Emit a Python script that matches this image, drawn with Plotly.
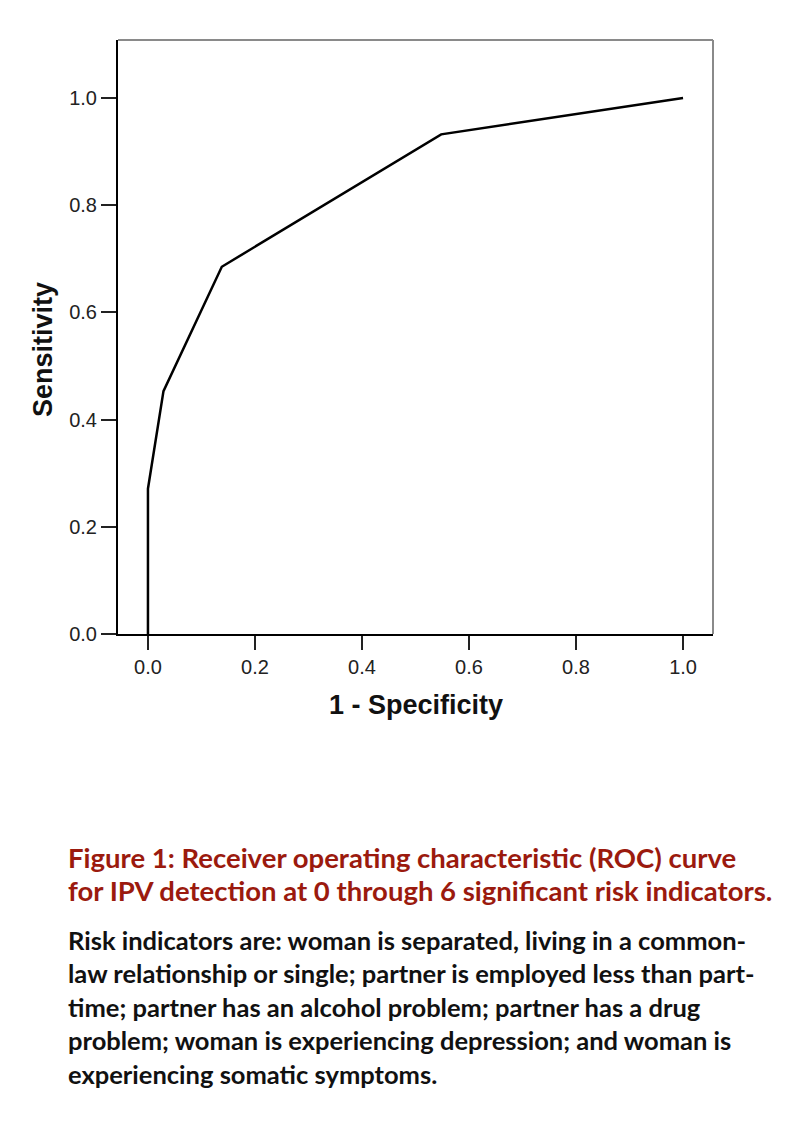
import plotly.graph_objects as go

# ROC curve data
fpr = [0.0, 0.0, 0.029, 0.138, 0.548, 1.0]
tpr = [0.0, 0.271, 0.453, 0.685, 0.932, 1.0]

x_ticks = [0.0, 0.2, 0.4, 0.6, 0.8, 1.0]
y_ticks = [0.0, 0.2, 0.4, 0.6, 0.8, 1.0]
x_title = "1 - Specificity"
y_title = "Sensitivity"

caption_title = [
    "Figure 1: Receiver operating characteristic (ROC) curve",
    "for IPV detection at 0 through 6 significant risk indicators.",
]
caption_body = [
    "Risk indicators are: woman is separated, living in a common-",
    "law relationship or single; partner is employed less than part-",
    "time; partner has an alcohol problem; partner has a drug",
    "problem; woman is experiencing depression; and woman is",
    "experiencing somatic symptoms.",
]

OFF = 8  # default page body margin
W, H = 800, 1123
L, R, T, B = 118 - OFF, 713 - OFF, 40 - OFF, 634 - OFF

def px(xp):
    return (xp - OFF - L) / (R - L)

def py(yp):
    return (B - (yp - OFF)) / (B - T)

fig = go.Figure()
fig.add_trace(go.Scatter(x=fpr, y=tpr, mode="lines",
                         line=dict(color="#000000", width=2.5), showlegend=False,
                         hoverinfo="skip"))

axis_font = dict(family="Liberation Sans, Arial, sans-serif", size=20, color="#222222")
fig.update_xaxes(range=[-0.056, 1.056], tickvals=x_ticks,
                 ticktext=[f"{v:.1f}" for v in x_ticks],
                 showgrid=False, zeroline=False, showline=True, linecolor="#000000",
                 linewidth=2, ticks="outside", ticklen=14, tickwidth=2, tickcolor="#222222",
                 tickfont=axis_font)
fig.update_yaxes(range=[0.0, 1.108], tickvals=y_ticks,
                 ticktext=[f"{v:.1f}" for v in y_ticks],
                 showgrid=False, zeroline=False, showline=True, linecolor="#000000",
                 linewidth=2, ticks="outside", ticklen=15, tickwidth=2, tickcolor="#222222",
                 tickfont=axis_font)

title_font = dict(family="Liberation Sans, Arial, sans-serif", size=27, color="#111111")
fig.add_annotation(text=f"<b>{x_title}</b>", xref="paper", yref="paper",
                   x=px(416), y=py(705), xanchor="center", yanchor="middle",
                   showarrow=False, font=title_font)
fig.add_annotation(text=f"<b>{y_title}</b>", xref="paper", yref="paper",
                   x=px(43), y=py(350), xanchor="center", yanchor="middle",
                   textangle=-90, showarrow=False, font=title_font)

# grey top and right frame
fig.add_shape(type="line", xref="paper", yref="paper", x0=0, x1=1, y0=1, y1=1,
              line=dict(color="#8a8a8a", width=2))
fig.add_shape(type="line", xref="paper", yref="paper", x0=1, x1=1, y0=0, y1=1,
              line=dict(color="#8a8a8a", width=2))

cap_font = "Lato, Open Sans, sans-serif"
title_y = [857, 891]
body_y = [940, 973, 1007, 1040, 1074]
for txt, yy in zip(caption_title, title_y):
    fig.add_annotation(text=f"<b>{txt}</b>", xref="paper", yref="paper",
                       x=px(66), y=py(yy), xanchor="left", yanchor="middle",
                       showarrow=False,
                       font=dict(family=cap_font, size=27.5, color="#9b1a0e"))
for txt, yy in zip(caption_body, body_y):
    fig.add_annotation(text=f"<b>{txt}</b>", xref="paper", yref="paper",
                       x=px(66), y=py(yy), xanchor="left", yanchor="middle",
                       showarrow=False,
                       font=dict(family=cap_font, size=25.5, color="#111111"))

fig.update_layout(width=W - OFF, height=H - OFF,
                  margin=dict(l=L, r=W - OFF - R, t=T, b=H - OFF - B),
                  paper_bgcolor="white", plot_bgcolor="white")

fig.write_html("out.html")
